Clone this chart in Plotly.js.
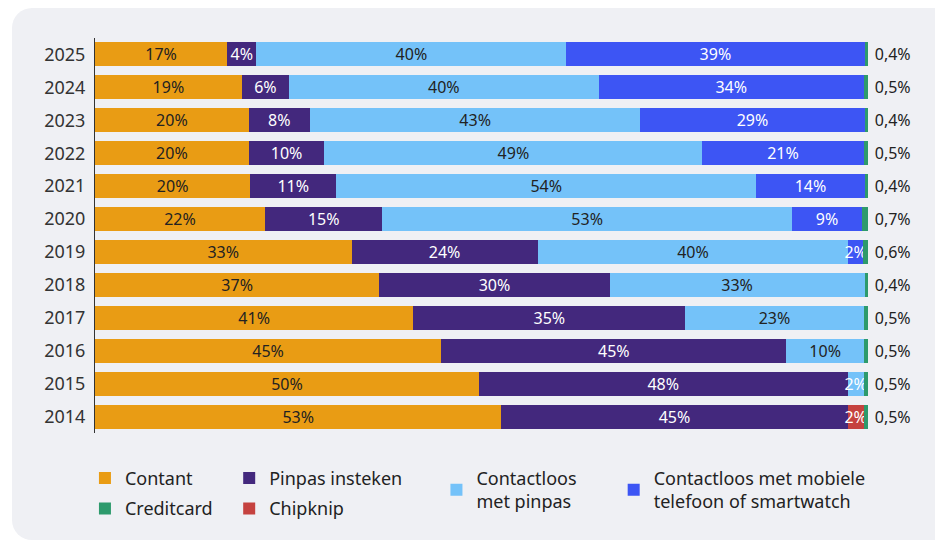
<!DOCTYPE html>
<html>
<head>
<meta charset="utf-8">
<script src="https://cdn.plot.ly/plotly-3.0.1.min.js"></script>
<style>
  html, body { margin: 0; padding: 0; background: #ffffff; }
  #panel { position: absolute; left: 12px; top: 8px; width: 960px; height: 532px; background: #eff0f4; border-radius: 20px; }
  #chart { position: absolute; left: 0; top: 0; width: 935px; height: 542px; }
</style>
</head>
<body>
<div id="panel"></div>
<div id="chart"></div>
<script>
// Data (percent share per year)
const years = ['2014','2015','2016','2017','2018','2019','2020','2021','2022','2023','2024','2025'];
const contant      = [52.6, 49.7, 44.8, 41.2, 36.8, 33.2, 22.0, 20.1, 19.9, 19.9, 19.0, 17.1];
const pinpas       = [44.8, 47.7, 44.7, 35.2, 29.8, 24.1, 15.2, 11.1,  9.8,  7.9,  6.1,  3.8];
const contactloos  = [null,  2.1, 10.0, 23.1, 33.0, 40.2, 53.0, 54.4, 48.9, 42.8, 40.1, 40.1];
const mobiel       = [null, null, null, null, null,  1.9,  9.1, 14.0, 20.9, 29.0, 34.3, 38.6];
const chipknip     = [ 2.1, null, null, null, null, null, null, null, null, null, null, null];
const creditcard   = [ 0.5,  0.5,  0.5,  0.5,  0.4,  0.6,  0.7,  0.4,  0.5,  0.4,  0.5,  0.4];

const names = {
  contant: 'Contant',
  pinpas: 'Pinpas insteken',
  contactloos: 'Contactloos<br>met pinpas',
  mobiel: 'Contactloos met mobiele<br>telefoon of smartwatch',
  chipknip: 'Chipknip',
  creditcard: 'Creditcard'
};

const colors = {
  contant: '#e99c14',
  pinpas: '#43287d',
  contactloos: '#74c2f9',
  mobiel: '#3d55f4',
  chipknip: '#c5423f',
  creditcard: '#2d9a6c'
};

const FONT = '"Noto Sans", "Open Sans", sans-serif';
const DARK = '#222222';
const WHITE = '#ffffff';

function pctText(arr) { return arr.map(v => (v == null ? '' : Math.round(v) + '%')); }

function barTrace(key, vals, textColor, legend, group) {
  return {
    type: 'bar', orientation: 'h', y: years, x: vals, name: names[key],
    marker: { color: colors[key], line: { width: 0 } },
    text: pctText(vals), textposition: 'inside', insidetextanchor: 'middle',
    textangle: 0, constraintext: 'none', cliponaxis: false,
    textfont: { family: FONT, size: 16, color: textColor },
    hoverinfo: 'skip', legend: legend, legendgroup: group
  };
}

const traces = [
  barTrace('contant', contant, DARK, 'legend', 'row1'),
  barTrace('pinpas', pinpas, WHITE, 'legend2', 'row1'),
  barTrace('contactloos', contactloos, contactloos.map(v => (v != null && v < 5 ? WHITE : DARK)), 'legend3', 'row1'),
  barTrace('mobiel', mobiel, WHITE, 'legend4', 'row1'),
  barTrace('chipknip', chipknip, WHITE, 'legend2', 'row2'),
  {
    type: 'bar', orientation: 'h', y: years, x: creditcard, name: names.creditcard,
    marker: { color: colors.creditcard, line: { width: 0 } },
    text: creditcard.map(v => '\u00a0' + v.toFixed(1).replace('.', ',') + '%'),
    textposition: 'outside', textangle: 0, constraintext: 'none', cliponaxis: false,
    textfont: { family: FONT, size: 16, color: DARK },
    hoverinfo: 'skip', legend: 'legend', legendgroup: 'row2'
  }
];

const legendBase = {
  orientation: 'v', yanchor: 'top', xanchor: 'left', y: -0.068,
  bgcolor: 'rgba(0,0,0,0)', traceorder: 'grouped',
  font: { family: FONT, size: 18, color: DARK }, tracegroupgap: 4
};

const layout = {
  width: 935, height: 542,
  margin: { l: 95, r: 67, t: 38, b: 109 },
  paper_bgcolor: 'rgba(0,0,0,0)', plot_bgcolor: 'rgba(0,0,0,0)',
  barmode: 'stack', bargap: 0.27,
  showlegend: true,
  font: { family: FONT, color: DARK },
  xaxis: { range: [0, 100.05], showgrid: false, zeroline: false, showticklabels: false, showline: false, fixedrange: true },
  yaxis: {
    type: 'category', showgrid: false, zeroline: false, showline: true,
    linecolor: '#333333', linewidth: 1, ticks: '', ticklabelstandoff: 5,
    tickfont: { family: FONT, size: 18, color: '#333333' }, fixedrange: true
  },
  legend:  Object.assign({}, legendBase, { x: -0.013 }),
  legend2: Object.assign({}, legendBase, { x: 0.1736 }),
  legend3: Object.assign({}, legendBase, { x: 0.4417 }),
  legend4: Object.assign({}, legendBase, { x: 0.671 })
};

Plotly.newPlot('chart', traces, layout, { displayModeBar: false, staticPlot: true });
</script>
</body>
</html>
